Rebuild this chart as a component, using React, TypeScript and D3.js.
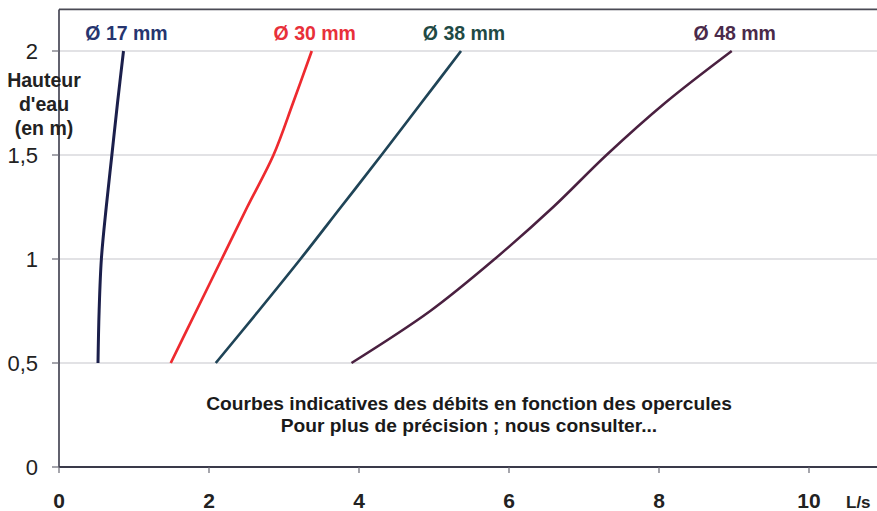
import React from "react";
import * as d3 from "d3";

// water height (m) at which each curve was read
const heights = [0.5, 0.75, 1, 1.25, 1.5, 1.75, 2];

// flow (L/s) per diameter
const flow17 = [0.52, 0.535, 0.565, 0.63, 0.705, 0.78, 0.86];
const flow30 = [1.49, 1.83, 2.17, 2.51, 2.86, 3.12, 3.37];
const flow38 = [2.09, 2.66, 3.22, 3.76, 4.3, 4.83, 5.36];
const flow48 = [3.9, 4.95, 5.81, 6.59, 7.3, 8.08, 8.97];

const seriesNames = ["Ø 17 mm", "Ø 30 mm", "Ø 38 mm", "Ø 48 mm"];
const lineColors = ["#1b1f4b", "#ee2a2f", "#1f4457", "#4a2040"];
const labelColors = ["#26356f", "#e8303a", "#1f4a45", "#4a2a4a"];
const lineWidths = [3, 2.7, 2.7, 2.5];

const xTicks = [0, 2, 4, 6, 8, 10];
const yTicks = [0, 0.5, 1, 1.5, 2];

const yTitle = ["Hauteur", "d'eau", "(en m)"];
const note = [
  "Courbes indicatives des débits en fonction des opercules",
  "Pour plus de précision ; nous consulter...",
];

const W = 877;
const H = 511;
const FONT = "'Liberation Sans', Arial, sans-serif";

const frLocale = d3.formatLocale({
  decimal: ",",
  thousands: " ",
  grouping: [3],
  currency: ["", " €"],
});
const fmt = frLocale.format("~g");

export default function App() {
  const x = d3.scaleLinear().domain([0, 10]).range([59, 809]);
  const y = d3.scaleLinear().domain([0, 2.2]).range([467, 9.4]);

  const flows = [flow17, flow30, flow38, flow48];
  const line = d3
    .line<[number, number]>()
    .x((d) => x(d[0]))
    .y((d) => y(d[1]))
    .curve(d3.curveCatmullRom.alpha(0.5));

  const left = x(0);
  const top = y(2.2);
  const bottom = y(0);

  return (
    <svg
      width={W}
      height={H}
      style={{ position: "absolute", left: 0, top: 0, background: "#fff" }}
      fontFamily={FONT}
    >
      {/* grid */}
      {yTicks
        .filter((t) => t > 0)
        .map((t) => (
          <line
            key={"g" + t}
            x1={left}
            x2={W}
            y1={y(t)}
            y2={y(t)}
            stroke="#c6c6cc"
            strokeWidth={1.2}
          />
        ))}

      {/* frame */}
      <line x1={left} x2={W} y1={top} y2={top} stroke="#4a4a55" strokeWidth={1.6} />
      <line x1={left} x2={left} y1={top} y2={bottom} stroke="#3a3a4a" strokeWidth={1.6} />
      <line x1={left} x2={W} y1={bottom} y2={bottom} stroke="#3a3a4a" strokeWidth={1.8} />

      {/* y ticks */}
      {yTicks.map((t) => (
        <g key={"y" + t}>
          <line x1={left - 7} x2={left} y1={y(t)} y2={y(t)} stroke="#6a6a75" strokeWidth={1.2} />
          <text
            x={38}
            y={y(t)}
            dy="0.36em"
            textAnchor="end"
            fontSize={22}
            fill="#222"
          >
            {fmt(t)}
          </text>
        </g>
      ))}

      {/* x ticks */}
      {xTicks.map((t) => (
        <g key={"x" + t}>
          <line x1={x(t)} x2={x(t)} y1={bottom} y2={bottom + 6} stroke="#6a6a75" strokeWidth={1.2} />
          <text x={x(t)} y={508} textAnchor="middle" fontSize={21} fontWeight="bold" fill="#222">
            {t}
          </text>
        </g>
      ))}
      <text x={846} y={508} fontSize={17} fontWeight="bold" fill="#222">
        L/s
      </text>

      {/* y title */}
      {yTitle.map((s, i) => (
        <text
          key={s}
          x={44}
          y={87 + i * 24}
          textAnchor="middle"
          fontSize={19.5}
          fontWeight="bold"
          fill="#222"
        >
          {s}
        </text>
      ))}

      {/* curves */}
      {flows.map((f, i) => {
        const pts = heights.map((h, j) => [f[j], h] as [number, number]);
        const end = pts[pts.length - 1];
        return (
          <g key={seriesNames[i]}>
            <path
              d={line(pts) ?? ""}
              fill="none"
              stroke={lineColors[i]}
              strokeWidth={lineWidths[i]}
            />
            <text
              x={x(end[0]) + 3}
              y={40}
              textAnchor="middle"
              fontSize={19.5}
              fontWeight="bold"
              fill={labelColors[i]}
            >
              {seriesNames[i]}
            </text>
          </g>
        );
      })}

      {/* note */}
      {note.map((s, i) => (
        <text
          key={s}
          x={469}
          y={410 + i * 22}
          textAnchor="middle"
          fontSize={19.2}
          fontWeight="bold"
          fill="#1a1a1a"
        >
          {s}
        </text>
      ))}
    </svg>
  );
}
